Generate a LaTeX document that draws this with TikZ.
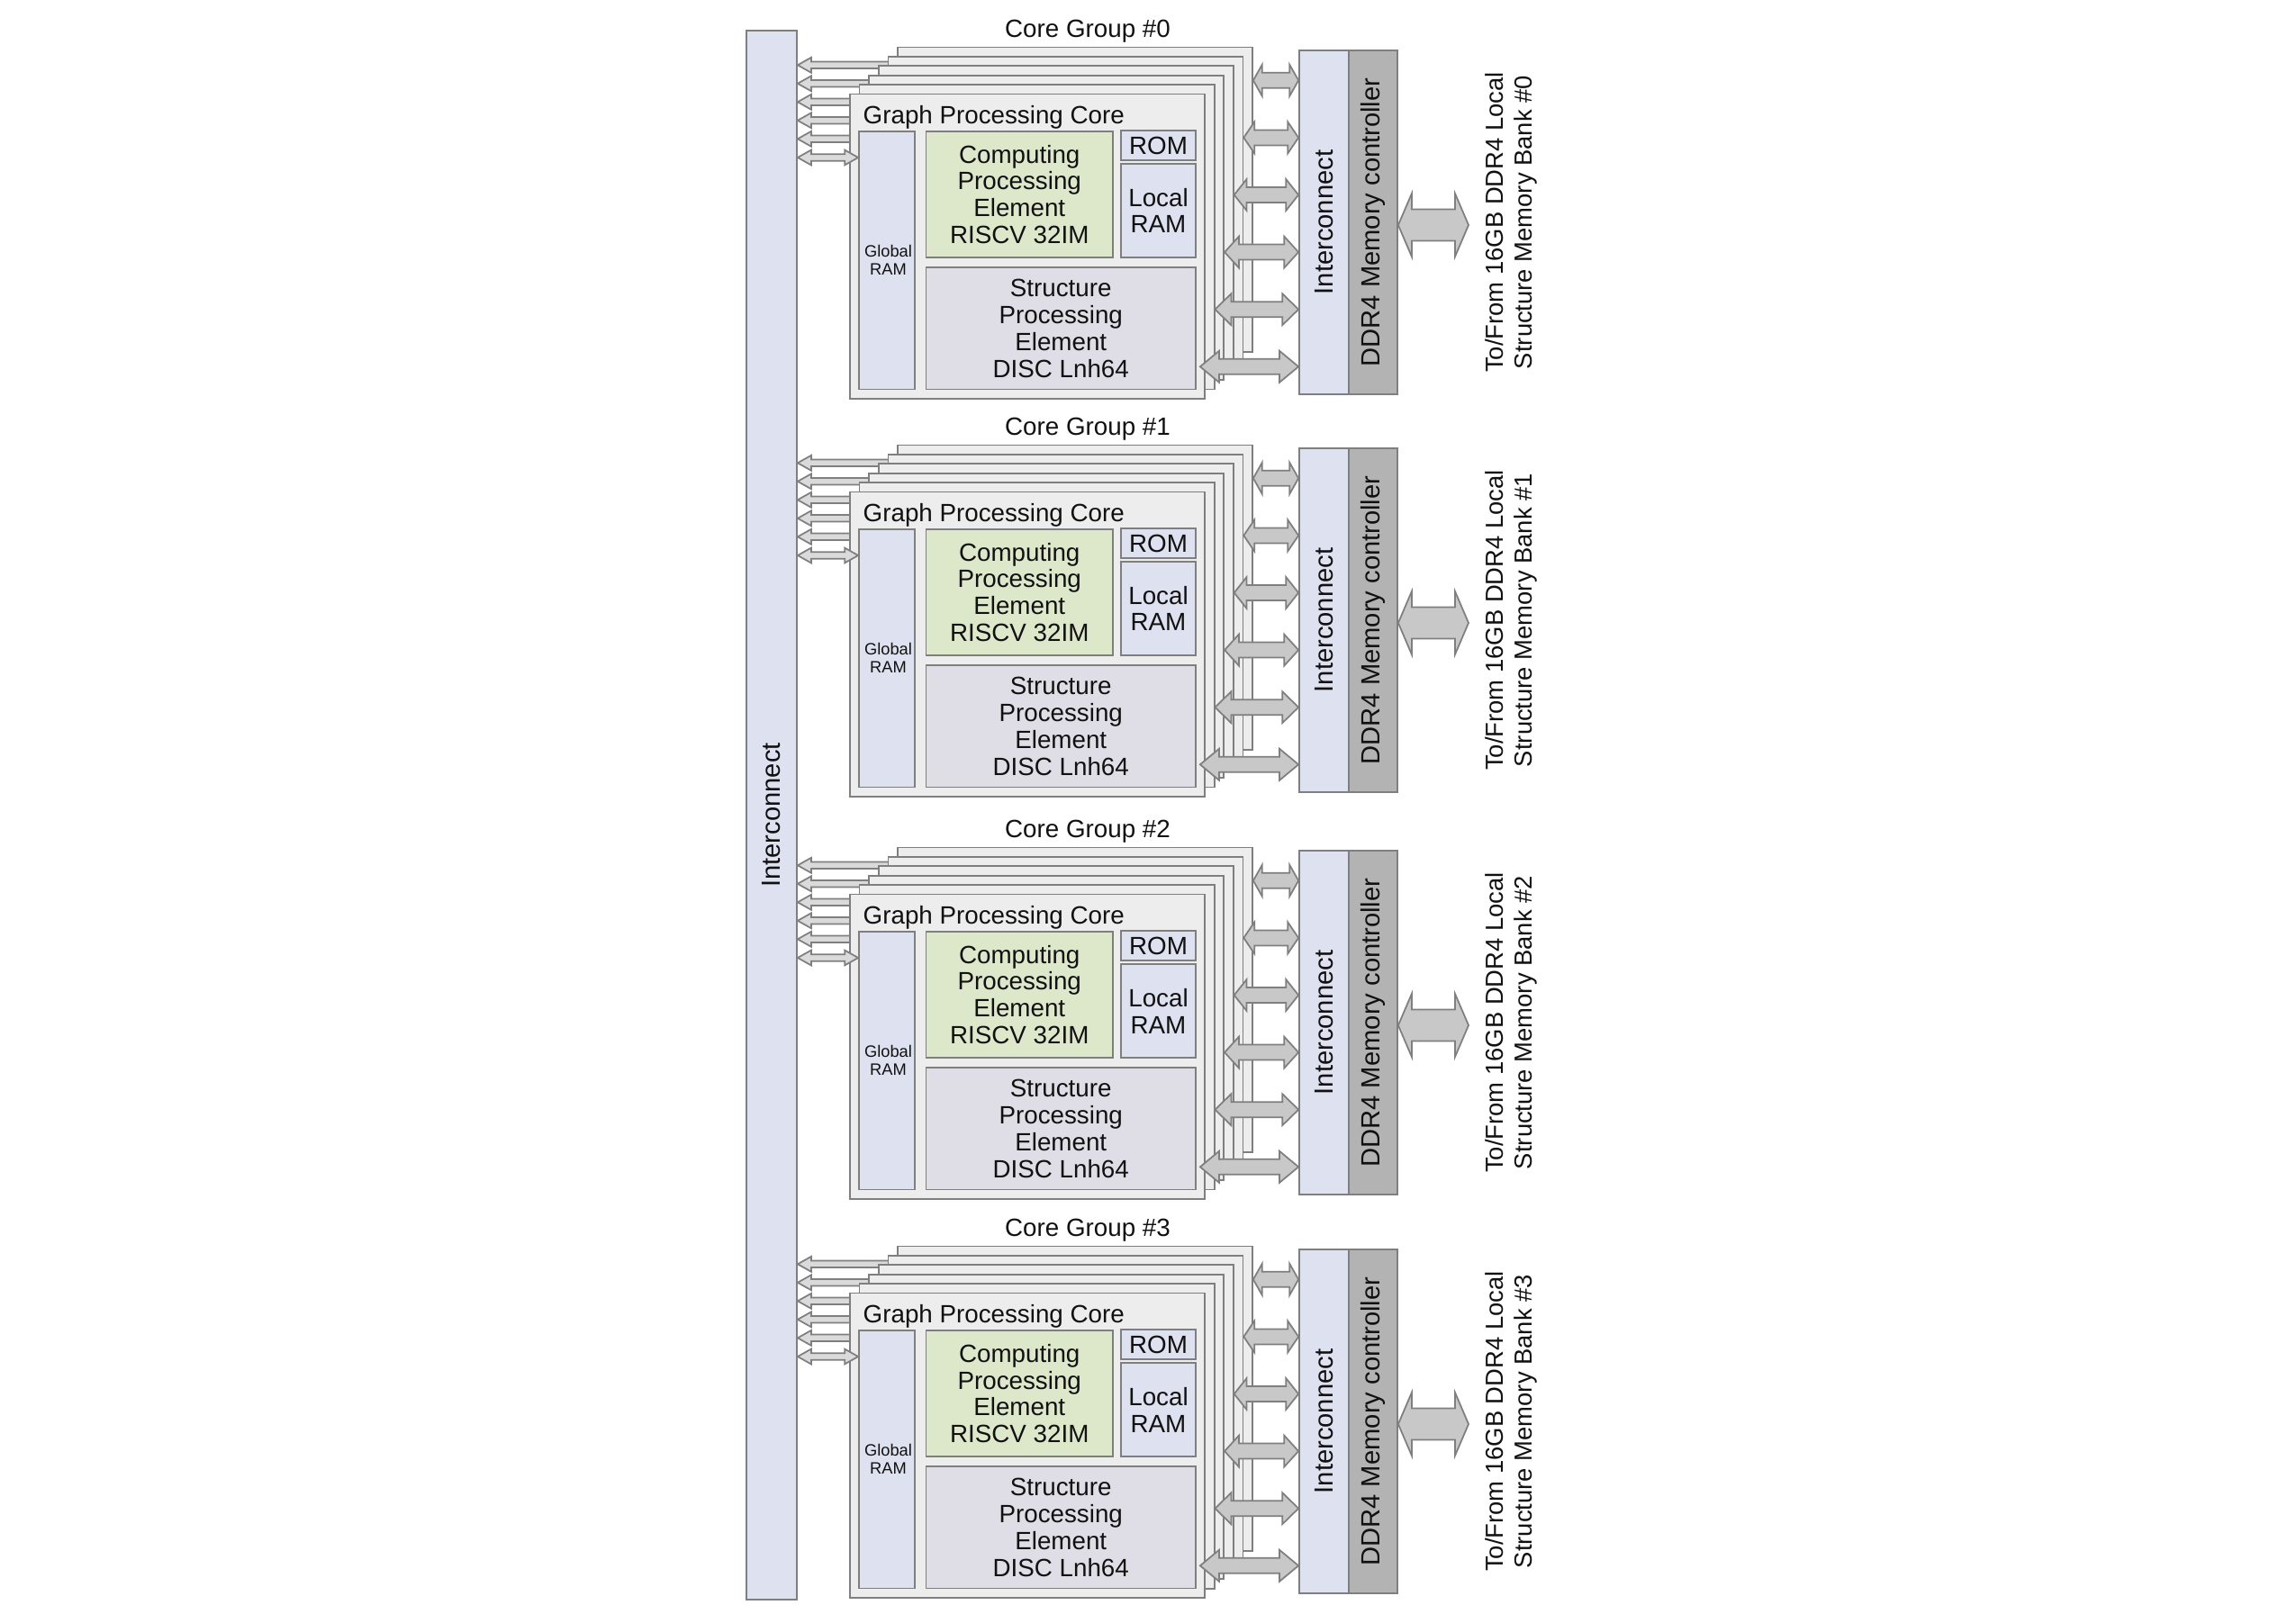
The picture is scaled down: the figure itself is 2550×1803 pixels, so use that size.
\documentclass[tikz,border=0pt]{standalone}
\usepackage{fontspec}
\setmainfont{Liberation Sans}
\usetikzlibrary{calc,fit}
\pgfdeclarelayer{bg}
\pgfsetlayers{bg,main}
\definecolor{bord}{HTML}{7F7F7F}
\definecolor{lav}{HTML}{DEE1F0}
\definecolor{grn}{HTML}{DDE8CB}
\definecolor{spef}{HTML}{DFDEE6}
\definecolor{layf}{HTML}{EDEDED}
\definecolor{ddrf}{HTML}{B3B3B3}
\definecolor{larrf}{HTML}{DADADA}
\definecolor{rarrf}{HTML}{C8C8C8}
\definecolor{txt}{HTML}{111111}
\newcommand\fMain{\fontsize{7.9}{8.5}\selectfont}
\newcommand\fRot{\fontsize{8.3}{9}\selectfont}
\newcommand\fSmall{\fontsize{5.2}{5.7}\selectfont}
\newcommand\fBank{\fontsize{7.8}{9.1}\selectfont}
% double-headed fat arrow: style, left tip, right tip, head length, head half-height, body half-thickness
\newcommand\dblfat[6]{%
  \draw[#1] (#2) -- ++(#4,-#5) -- ++(0,#5-#6) -- ($(#3)+(-#4,-#6)$) -- ++(0,#6-#5) -- (#3) -- ++(-#4,#5) -- ++(0,#6-#5) -- ($(#2)+(#4,#6)$) -- ++(0,#5-#6) -- cycle;%
}
% single fat arrow pointing to the left tip: style, tip, tail, head length, head half-height, body half-thickness
\newcommand\sglfat[6]{%
  \draw[#1] (#2) -- ++(#4,-#5) -- ++(0,#5-#6) -- ($(#3)+(0,-#6)$) -- ($(#3)+(0,#6)$) -- ($(#2)+(#4,#6)$) -- ++(0,#5-#6) -- cycle;%
}
\tikzset{
  blk/.style={draw=bord, line width=0.5pt, inner sep=0pt},
  lay/.style={blk, fill=layf},
  ram/.style={blk, fill=lav},
  cpe/.style={blk, fill=grn},
  spe/.style={blk, fill=spef},
  ddr/.style={blk, fill=ddrf},
  larr/.style={draw=bord, fill=larrf, line width=0.5pt, line join=miter},
  rarr/.style={draw=bord, fill=rarrf, line width=0.5pt, line join=miter},
  lbl/.style={inner sep=0pt, text=txt, align=center, font=\fMain},
  rlbl/.style={lbl, font=\fRot, rotate=90},
}
\begin{document}
\begin{tikzpicture}[x=0.1mm,y=-0.1mm]
\useasboundingbox (0,0) rectangle (2550,1803);
\node[ram, fit={(829,34) (885,1777)}] (bar) {};
\node[rlbl] (barlbl) at (bar.center) {Interconnect};
\foreach \g/\oy in {0/0,1/442,2/889,3/1332}{
  \node[lbl, anchor=base] (g\g-title) at (1208,\oy+41.5) {Core Group \#\g};
  % stacked cores
  \foreach \i in {0,...,5}{
    \node[lay, fit={({997-10.6*\i},{\oy+52.5+10.4*\i}) ({1391-10.6*\i},{\oy+391+10.4*\i})}] (g\g-l\i) {};
  }
  % left arrows (behind the stack)
  \begin{pgfonlayer}{bg}
  \foreach \j in {0,...,4}{
    \pgfmathsetmacro\myAY{\oy+72.3+20.5*\j}
    \coordinate (g\g-lt\j) at (bar.east |- 0,\myAY);
    \coordinate (g\g-lb\j) at (g\g-l0.west |- 0,\myAY);
    \sglfat{larr}{g\g-lt\j}{g\g-lb\j}{15}{8.4}{3.7}
  }
  \end{pgfonlayer}
  % front core contents
  \node[lbl, anchor=base west] (g\g-gpc) at (958,\oy+137.5) {Graph Processing Core};
  \node[ram, fit={(954,\oy+146) (1016,\oy+432.5)}] (g\g-gram) {};
  \node[lbl, font=\fSmall] at ($(g\g-gram.center)+(1.5,0)$) {Global\\RAM};
  \node[cpe, fit={(1028.5,\oy+146) (1236,\oy+286)}] (g\g-cpe) {};
  \node[lbl] at (g\g-cpe.center) {Computing\\Processing\\Element\\RISCV 32IM};
  \node[ram, fit={(1245,\oy+145) (1328,\oy+178)}] (g\g-rom) {};
  \node[lbl] at (g\g-rom.center) {ROM};
  \node[ram, fit={(1245,\oy+182) (1328,\oy+286)}] (g\g-lram) {};
  \node[lbl] at (g\g-lram.center) {Local\\RAM};
  \node[spe, fit={(1028.5,\oy+297) (1328,\oy+432.5)}] (g\g-spe) {};
  \node[lbl] at (g\g-spe.center) {Structure\\Processing\\Element\\DISC Lnh64};
  % double arrow to global RAM
  \pgfmathsetmacro\myAY{\oy+175}
  \coordinate (g\g-dt) at (bar.east |- 0,\myAY);
  \coordinate (g\g-db) at (g\g-gram.west |- 0,\myAY);
  \dblfat{larr}{g\g-dt}{g\g-db}{15}{8.4}{3.7}
  % interconnect + DDR4 controller
  \node[ram, fit={(1443,\oy+56) (1498,\oy+438)}] (g\g-ic) {};
  \node[rlbl] (g\g-iclbl) at (g\g-ic.center) {Interconnect};
  \node[ddr, fit={(1498,\oy+56) (1552,\oy+438)}] (g\g-ddr) {};
  \node[rlbl] (g\g-ddrlbl) at (g\g-ddr.center) {DDR4 Memory controller};
  % right arrows
  \foreach \i in {0,...,5}{
    \pgfmathsetmacro\myRY{\oy+89.3+63.6*\i}
    \pgfmathsetmacro\myDX{\i<5 ? 0 : -6}
    \pgfmathsetmacro\myLX{1391-10.6*\i+\myDX}
    \pgfmathsetmacro\myHL{0.19*(1443-\myLX)}
    \coordinate (g\g-rb\i) at (g\g-l\i.east |- 0,\myRY);
    \coordinate (g\g-ra\i) at ($(g\g-rb\i)+(\myDX,0)$);
    \coordinate (g\g-rc\i) at (g\g-ic.west |- 0,\myRY);
    \dblfat{rarr}{g\g-ra\i}{g\g-rc\i}{\myHL}{17.5}{8.5}
  }
  % memory bank arrow and label
  \pgfmathsetmacro\myBY{\oy+250}
  \coordinate (g\g-ba) at (g\g-ddr.east |- 0,\myBY);
  \coordinate (g\g-bb) at (1631,\myBY);
  \dblfat{rarr}{g\g-ba}{g\g-bb}{15}{35}{17.4}
  \node[lbl, font=\fBank, rotate=90] (g\g-bank) at (1678,\oy+247) {To/From 16GB DDR4 Local\\Structure Memory Bank \#\g};
}
\end{tikzpicture}
\end{document}
